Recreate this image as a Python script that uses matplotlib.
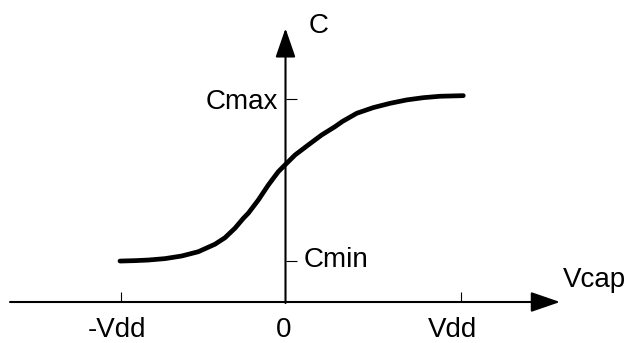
import numpy as np
import matplotlib
matplotlib.use("Agg")
import matplotlib.pyplot as plt
from matplotlib.markers import TICKUP, TICKRIGHT

# C-V curve of a varactor, Vcap in units of Vdd, C in units of Cmax
vcap = [-0.943, -0.858, -0.782, -0.687, -0.591, -0.497, -0.402, -0.345, -0.288,
        -0.240, -0.212, -0.155, -0.098, -0.041, -0.003, 0.054, 0.130, 0.206,
        0.282, 0.325, 0.406, 0.500, 0.595, 0.691, 0.785, 0.880, 1.013]
cap = [0.202, 0.204, 0.207, 0.214, 0.227, 0.248, 0.285, 0.317, 0.364,
       0.413, 0.438, 0.503, 0.577, 0.643, 0.676, 0.725, 0.775, 0.824,
       0.865, 0.891, 0.931, 0.959, 0.980, 0.997, 1.008, 1.015, 1.018]

xtick_pos = [-0.94, 1.0]
ytick_pos = [0.202, 1.0]
xlabels = ["-Vdd", "0", "Vdd"]
ylabels = ["Cmin", "Cmax"]

W, H = 627, 343
X0, XS = 285.5, 175.5   # pixel of origin, pixels per Vdd
Y0, YS = 302.0, 202.7   # pixel row of origin (from top), pixels per Cmax

def px(x, y):
  # pixel position (from top left) -> data coords
  return (x - X0) / XS, (Y0 - y) / YS

fig = plt.figure(figsize=(W / 100., H / 100.), dpi=100)
ax = fig.add_axes([0, 0, 1, 1])
ax.set_xlim(-X0 / XS, (W - X0) / XS)
ax.set_ylim((Y0 - H) / YS, Y0 / YS)
ax.axis("off")

# axes with arrow heads
arrow = dict(arrowstyle="-|>,head_length=1.8,head_width=0.62", lw=1.5, color="black",
             mutation_scale=10, shrinkA=0, shrinkB=0)
ax.annotate("", xy=px(560, Y0), xytext=px(10, Y0), arrowprops=arrow)
ax.annotate("", xy=px(X0, 28.3), xytext=px(X0, Y0 + 1), arrowprops=arrow)

# tick marks
ax.plot(xtick_pos, np.zeros(len(xtick_pos)), ls="none", marker=TICKUP, ms=7.2, mew=0.8, color="black")
ax.plot(np.zeros(len(ytick_pos)), ytick_pos, ls="none", marker=TICKRIGHT, ms=7.9, mew=0.8, color="black")

ax.plot(vcap, cap, color="black", lw=3.4, solid_capstyle="round", solid_joinstyle="round")

font = dict(fontsize=20, family="Liberation Sans", va="baseline")
ax.text(*px(309, 33), "C", ha="left", **font)
ax.text(*px(277.5, 109), ylabels[1], ha="right", **font)
ax.text(*px(303.5, 267), ylabels[0], ha="left", **font)
ax.text(*px(562.5, 286.7), "Vcap", ha="left", **font)
for xp, lab in zip([116.5, 283.3, 452.3], xlabels):
  ax.text(*px(xp, 337), lab, ha="center", **font)

plt.savefig("out.png", dpi=100)
